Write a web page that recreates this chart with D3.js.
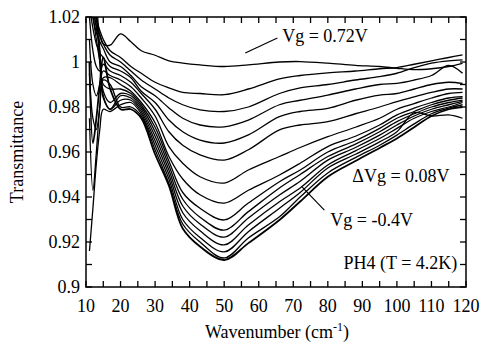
<!DOCTYPE html>
<html>
<head>
<meta charset="utf-8">
<script src="https://cdn.jsdelivr.net/npm/d3@7"></script>
</head>
<body style="margin:0">
<script>
// wavenumber samples (cm^-1)
var wavenumber = [11, 12, 13, 14, 15, 17, 20, 23, 26, 30, 34, 38, 43, 50, 57, 66, 72, 80, 88, 95, 100, 105, 110, 115, 119];

// gate voltages, 0.72V down to -0.4V in 0.08V steps
var gateVoltage = [0.72, 0.64, 0.56, 0.48, 0.40, 0.32, 0.24, 0.16, 0.08, 0.0, -0.08, -0.16, -0.24, -0.32, -0.40];

// transmittance, one row per gate voltage
var transmittance = [
  [1.035, 1.03, 1.02, 1.012, 1.008, 1.0075, 1.0125, 1.009, 1.005, 1.003, 1.0005, 0.9995, 0.9987, 0.998, 0.9987, 1.0, 1.0002, 0.9995, 0.9985, 0.998, 0.9972, 0.9966, 0.997, 0.998, 0.9994],
  [1.03, 1.025, 1.019, 1.014, 1.01, 1.005, 1.002, 0.998, 0.995, 0.991, 0.9885, 0.9865, 0.986, 0.9855, 0.988, 0.9925, 0.994, 0.9952, 0.996, 0.997, 0.9975, 0.999, 1.0005, 1.002, 1.0032],
  [1.025, 1.022, 1.016, 1.012, 1.008, 1.003, 1.0, 0.996, 0.992, 0.988, 0.984, 0.981, 0.9787, 0.978, 0.98, 0.986, 0.9885, 0.99, 0.992, 0.9935, 0.995, 0.9975, 0.9995, 1.0005, 1.0009],
  [1.03, 1.02, 1.013, 1.009, 1.006, 1.0, 0.998, 0.994, 0.989, 0.985, 0.9796, 0.975, 0.972, 0.9712, 0.9742, 0.981, 0.983, 0.9853, 0.988, 0.99, 0.9905, 0.992, 0.994, 0.9985, 0.995],
  [1.025, 1.015, 1.008, 1.004, 1.002, 0.998, 0.996, 0.993, 0.987, 0.982, 0.9742, 0.969, 0.9653, 0.964, 0.9676, 0.9757, 0.978, 0.9794, 0.983, 0.9853, 0.986, 0.988, 0.99, 0.991, 0.9905],
  [1.02, 1.005, 0.998, 0.996, 0.999, 0.996, 0.994, 0.991, 0.986, 0.979, 0.969, 0.963, 0.9587, 0.9564, 0.961, 0.9698, 0.972, 0.9735, 0.977, 0.98, 0.9824, 0.9845, 0.9865, 0.988, 0.988],
  [1.01, 0.99, 0.985, 0.99, 0.996, 0.994, 0.992, 0.989, 0.984, 0.976, 0.9624, 0.955, 0.949, 0.9462, 0.952, 0.958, 0.962, 0.9668, 0.971, 0.975, 0.979, 0.9815, 0.984, 0.986, 0.9865],
  [0.995, 0.975, 0.97, 0.98, 0.993, 0.993, 0.99, 0.987, 0.982, 0.973, 0.958, 0.948, 0.941, 0.9373, 0.943, 0.9498, 0.955, 0.9624, 0.967, 0.972, 0.9765, 0.9795, 0.982, 0.984, 0.9846],
  [1.03, 1.02, 1.01, 1.0, 0.99, 0.988, 0.988, 0.986, 0.981, 0.971, 0.956, 0.942, 0.935, 0.9298, 0.9373, 0.9468, 0.952, 0.96, 0.965, 0.9705, 0.975, 0.978, 0.981, 0.983, 0.984],
  [1.03, 1.025, 1.015, 1.005, 0.987, 0.982, 0.986, 0.985, 0.98, 0.969, 0.954, 0.939, 0.931, 0.9253, 0.9335, 0.944, 0.95, 0.958, 0.9635, 0.969, 0.9735, 0.977, 0.98, 0.982, 0.9831],
  [1.03, 1.03, 1.02, 1.0, 0.984, 0.979, 0.985, 0.984, 0.979, 0.967, 0.952, 0.936, 0.928, 0.9222, 0.9307, 0.9409, 0.947, 0.9564, 0.962, 0.9675, 0.972, 0.976, 0.979, 0.981, 0.9825],
  [1.03, 1.03, 1.025, 1.005, 0.985, 0.979, 0.983, 0.983, 0.978, 0.965, 0.95, 0.933, 0.925, 0.9187, 0.9276, 0.9379, 0.944, 0.9542, 0.9605, 0.966, 0.9705, 0.975, 0.978, 0.98, 0.982],
  [0.916, 0.935, 0.955, 0.97, 0.979, 0.978, 0.981, 0.982, 0.977, 0.963, 0.948, 0.93, 0.922, 0.9156, 0.9246, 0.935, 0.942, 0.9529, 0.959, 0.9645, 0.969, 0.9775, 0.976, 0.9765, 0.975],
  [0.975, 0.943, 0.96, 0.98, 0.992, 0.99, 0.98, 0.98, 0.976, 0.961, 0.946, 0.928, 0.92, 0.9129, 0.9218, 0.9312, 0.94, 0.9507, 0.9575, 0.963, 0.9675, 0.9725, 0.977, 0.9795, 0.981],
  [1.0, 0.964, 0.975, 0.99, 1.002, 0.988, 0.979, 0.979, 0.975, 0.959, 0.945, 0.926, 0.918, 0.912, 0.9195, 0.9298, 0.938, 0.949, 0.956, 0.9618, 0.966, 0.971, 0.976, 0.979, 0.98]
];

var xTickLabels = [10, 20, 30, 40, 50, 60, 70, 80, 90, 100, 110, 120];
var yTickLabels = [0.9, 0.92, 0.94, 0.96, 0.98, 1, 1.02];

var fontFamily = "'Liberation Serif'";

var width = 484, height = 347;
var margin = { top: 17, right: 18, bottom: 60, left: 86 };
var w = width - margin.left - margin.right,
    h = height - margin.top - margin.bottom;

var x = d3.scaleLinear().domain([10, 120]).range([0, w]);
var y = d3.scaleLinear().domain([0.9, 1.02]).range([h, 0]);

var svg = d3.select("body").append("svg")
  .attr("width", width)
  .attr("height", height);

svg.selectAll(".xl").data(xTickLabels).enter().append("text")
  .attr("x", function (d) { return margin.left + x(d); })
  .attr("y", margin.top + h + 25)
  .attr("text-anchor", "middle")
  .attr("font-size", 18)
  .style("font-family", fontFamily)
  .text(function (d) { return d; });

svg.selectAll(".yl").data(yTickLabels).enter().append("text")
  .attr("x", margin.left - 6)
  .attr("y", function (d) { return margin.top + y(d) + 6; })
  .attr("text-anchor", "end")
  .attr("font-size", 18)
  .style("font-family", fontFamily)
  .text(function (d) { return d; });

var xt = svg.append("text")
  .attr("x", 277).attr("y", 338)
  .attr("text-anchor", "middle")
  .attr("font-size", 18)
  .style("font-family", fontFamily);
xt.append("tspan").text("Wavenumber  (cm");
xt.append("tspan").attr("font-size", 12).attr("dy", -7).text("-1");
xt.append("tspan").attr("dy", 7).text(")");

svg.append("text")
  .attr("transform", "translate(23,152) rotate(-90)")
  .attr("text-anchor", "middle")
  .attr("font-size", 18)
  .style("font-family", fontFamily)
  .text("Transmittance");

var notes = [
  { t: "Vg = 0.72V", wn: 66.8, tr: 1.0089, anchor: "start" },
  { t: "\u0394Vg = 0.08V", wn: 87.1, tr: 0.9467, anchor: "start" },
  { t: "Vg = -0.4V", wn: 80.7, tr: 0.9271, anchor: "start" },
  { t: "PH4 (T = 4.2K)", wn: 117.5, tr: 0.908, anchor: "end" }
];
svg.selectAll(".note").data(notes).enter().append("text")
  .attr("x", function (d) { return margin.left + x(d.wn); })
  .attr("y", function (d) { return margin.top + y(d.tr); })
  .attr("text-anchor", function (d) { return d.anchor; })
  .attr("font-size", 18)
  .style("font-family", fontFamily)
  .text(function (d) { return d.t; });

var g = svg.append("g")
  .attr("transform", "translate(" + margin.left + "," + margin.top + ")");

g.append("clipPath").attr("id", "plot")
  .append("rect").attr("width", w).attr("height", h);

var tickLen = 6;
var xMinor = d3.range(10, 121, 5);
var yMinor = d3.range(0.9, 1.0201, 0.01);

// tick marks pointing inward on every side
g.selectAll(".xb").data(xMinor).enter().append("line")
  .attr("x1", function (d) { return x(d); }).attr("x2", function (d) { return x(d); })
  .attr("y1", h).attr("y2", h - tickLen)
  .attr("stroke", "#000").attr("stroke-width", 1.3);
g.selectAll(".xtp").data(xMinor).enter().append("line")
  .attr("x1", function (d) { return x(d); }).attr("x2", function (d) { return x(d); })
  .attr("y1", 0).attr("y2", tickLen)
  .attr("stroke", "#000").attr("stroke-width", 1.3);
g.selectAll(".yle").data(yMinor).enter().append("line")
  .attr("x1", 0).attr("x2", tickLen)
  .attr("y1", function (d) { return y(d); }).attr("y2", function (d) { return y(d); })
  .attr("stroke", "#000").attr("stroke-width", 1.3);
g.selectAll(".yri").data(yMinor).enter().append("line")
  .attr("x1", w).attr("x2", w - tickLen)
  .attr("y1", function (d) { return y(d); }).attr("y2", function (d) { return y(d); })
  .attr("stroke", "#000").attr("stroke-width", 1.3);

g.append("rect")
  .attr("width", w).attr("height", h)
  .attr("fill", "none").attr("stroke", "#000").attr("stroke-width", 1.5);

// spectra
var line = d3.line()
  .x(function (d) { return x(d[0]); })
  .y(function (d) { return y(d[1]); })
  .curve(d3.curveCatmullRom.alpha(0.5));

g.append("g").attr("clip-path", "url(#plot)")
  .selectAll("path")
  .data(transmittance)
  .enter().append("path")
  .attr("fill", "none")
  .attr("stroke", "#000")
  .attr("stroke-width", function (d, i) { return i === gateVoltage.length - 1 ? 1.8 : 1.3; })
  .attr("d", function (row) {
    return line(row.map(function (v, j) { return [wavenumber[j], v]; }));
  });

// annotation pointers
var pointers = [
  [[56.1, 1.004], [65.4, 1.0107]],
  [[72.6, 0.9444], [79.0, 0.9342]]
];
g.selectAll(".ptr").data(pointers).enter().append("line")
  .attr("x1", function (d) { return x(d[0][0]); })
  .attr("y1", function (d) { return y(d[0][1]); })
  .attr("x2", function (d) { return x(d[1][0]); })
  .attr("y2", function (d) { return y(d[1][1]); })
  .attr("stroke", "#000").attr("stroke-width", 1.2);
</script>
</body>
</html>
